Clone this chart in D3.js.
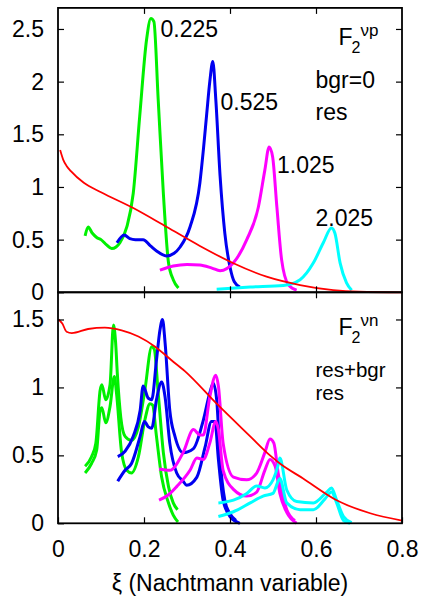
<!DOCTYPE html>
<html>
<head>
<meta charset="utf-8">
<script src="https://cdn.jsdelivr.net/npm/d3@7"></script>
<style>
  html, body { margin: 0; padding: 0; background: #fff; }
  svg { display: block; }
  text { font-family: "Liberation Sans", Arial, sans-serif; fill: #000; }
</style>
</head>
<body>
<svg id="chart" width="423" height="597"></svg>
<script>
// ---------------- DATA ----------------
const xTickValues = [0, 0.2, 0.4, 0.6, 0.8];
const xTickLabels = ["0", "0.2", "0.4", "0.6", "0.8"];
const yTopTickValues = [0, 0.5, 1, 1.5, 2, 2.5];
const yTopTickLabels = ["0", "0.5", "1", "1.5", "2", "2.5"];
const yBotTickValues = [0, 0.5, 1, 1.5];
const yBotTickLabels = ["0", "0.5", "1", "1.5"];
const peakLabels = ["0.225", "0.525", "1.025", "2.025"];

// Top panel (F2 nu p), bgr=0, res
const redTopXi = [0.005, 0.012, 0.02, 0.03, 0.06, 0.1, 0.175, 0.253, 0.33, 0.408, 0.485, 0.563, 0.64, 0.7, 0.8];
const redTopF2 = [1.35, 1.26, 1.2, 1.15, 1.04, 0.95, 0.80, 0.62, 0.44, 0.276, 0.148, 0.069, 0.02, 0.005, 0.0];

const greenTopXi = [0.063, 0.07, 0.08, 0.09, 0.10, 0.113, 0.125, 0.135, 0.144, 0.16, 0.175, 0.19, 0.206, 0.216, 0.223, 0.233, 0.245, 0.257, 0.268, 0.28];
const greenTopF2 = [0.535, 0.62, 0.56, 0.52, 0.50, 0.45, 0.415, 0.43, 0.47, 0.62, 0.94, 1.67, 2.40, 2.60, 2.57, 1.83, 0.94, 0.28, 0.12, 0.04];

const blueTopXi = [0.137, 0.154, 0.167, 0.18, 0.198, 0.215, 0.23, 0.253, 0.27, 0.284, 0.307, 0.33, 0.338, 0.346, 0.353, 0.36, 0.367, 0.377, 0.388, 0.40, 0.41, 0.423];
const blueTopF2 = [0.47, 0.545, 0.51, 0.50, 0.50, 0.44, 0.39, 0.345, 0.37, 0.43, 0.62, 1.04, 1.35, 1.70, 2.0, 2.19, 1.83, 1.10, 0.56, 0.24, 0.10, 0.05];

const magentaTopXi = [0.237, 0.268, 0.3, 0.33, 0.358, 0.377, 0.408, 0.439, 0.466, 0.481, 0.491, 0.499, 0.509, 0.52, 0.536, 0.555];
const magentaTopF2 = [0.21, 0.25, 0.265, 0.26, 0.23, 0.205, 0.28, 0.50, 0.81, 1.16, 1.38, 1.29, 0.81, 0.31, 0.07, 0.02];

const cyanTopXi = [0.369, 0.447, 0.524, 0.563, 0.594, 0.617, 0.636, 0.644, 0.656, 0.671, 0.683];
const cyanTopF2 = [0.03, 0.05, 0.065, 0.12, 0.28, 0.47, 0.61, 0.56, 0.28, 0.09, 0.02];

// Bottom panel (F2 nu n), res+bgr (upper) and res (lower)
const redBotXi = [0.001, 0.01, 0.02, 0.032, 0.07, 0.109, 0.148, 0.187, 0.226, 0.264, 0.295, 0.369, 0.447, 0.493, 0.516, 0.57, 0.648, 0.726, 0.8];
const redBotF2 = [1.50, 1.47, 1.41, 1.40, 1.43, 1.44, 1.42, 1.375, 1.30, 1.20, 1.12, 0.88, 0.64, 0.50, 0.44, 0.33, 0.17, 0.074, 0.02];

const greenBgrXi = [0.063, 0.078, 0.088, 0.098, 0.102, 0.111, 0.121, 0.129, 0.134, 0.138, 0.146, 0.156, 0.171, 0.187, 0.202, 0.218, 0.224, 0.233, 0.245, 0.257, 0.268, 0.278];
const greenBgrF2 = [0.42, 0.49, 0.59, 0.98, 1.02, 0.91, 1.02, 1.46, 1.33, 1.10, 0.78, 0.64, 0.61, 0.71, 0.98, 1.30, 1.28, 0.96, 0.52, 0.27, 0.15, 0.10];
const greenResXi = [0.063, 0.078, 0.09, 0.098, 0.102, 0.111, 0.121, 0.131, 0.136, 0.148, 0.16, 0.171, 0.187, 0.202, 0.214, 0.22, 0.229, 0.241, 0.257, 0.268, 0.279];
const greenResF2 = [0.37, 0.44, 0.54, 0.83, 0.85, 0.74, 0.86, 1.08, 0.96, 0.52, 0.39, 0.37, 0.49, 0.76, 0.88, 0.87, 0.64, 0.34, 0.15, 0.06, 0.01];

const blueBgrXi = [0.139, 0.156, 0.175, 0.191, 0.198, 0.21, 0.218, 0.229, 0.237, 0.243, 0.249, 0.26, 0.272, 0.291, 0.315, 0.338, 0.353, 0.361, 0.369, 0.377, 0.388, 0.40, 0.414];
const blueBgrF2 = [0.49, 0.53, 0.64, 0.83, 1.01, 0.92, 0.91, 1.20, 1.42, 1.50, 1.33, 0.83, 0.64, 0.52, 0.55, 0.76, 0.96, 1.03, 0.91, 0.47, 0.17, 0.07, 0.02];
const blueResXi = [0.139, 0.156, 0.171, 0.191, 0.201, 0.21, 0.218, 0.229, 0.241, 0.249, 0.26, 0.276, 0.291, 0.299, 0.323, 0.342, 0.357, 0.365, 0.373, 0.384, 0.40, 0.423];
const blueResF2 = [0.31, 0.39, 0.44, 0.64, 0.75, 0.71, 0.70, 0.91, 1.04, 0.93, 0.59, 0.37, 0.31, 0.28, 0.34, 0.56, 0.75, 0.75, 0.47, 0.17, 0.05, 0.0];

const magentaBgrXi = [0.235, 0.26, 0.291, 0.315, 0.33, 0.338, 0.353, 0.367, 0.373, 0.384, 0.408, 0.439, 0.462, 0.481, 0.493, 0.502, 0.512, 0.532, 0.551];
const magentaBgrF2 = [0.40, 0.39, 0.52, 0.69, 0.65, 0.65, 0.93, 1.09, 1.01, 0.59, 0.34, 0.32, 0.37, 0.52, 0.62, 0.59, 0.37, 0.10, 0.02];
const magentaResXi = [0.235, 0.257, 0.276, 0.307, 0.323, 0.338, 0.353, 0.367, 0.373, 0.384, 0.408, 0.439, 0.462, 0.481, 0.493, 0.505, 0.516, 0.532, 0.555];
const magentaResF2 = [0.17, 0.21, 0.27, 0.39, 0.48, 0.47, 0.59, 0.75, 0.69, 0.39, 0.25, 0.20, 0.23, 0.39, 0.47, 0.42, 0.22, 0.08, 0.0];

const cyanBgrXi = [0.373, 0.408, 0.439, 0.462, 0.481, 0.50, 0.512, 0.516, 0.532, 0.555, 0.594, 0.625, 0.636, 0.648, 0.664, 0.683];
const cyanBgrF2 = [0.15, 0.17, 0.22, 0.275, 0.26, 0.32, 0.43, 0.48, 0.245, 0.16, 0.15, 0.23, 0.26, 0.17, 0.05, 0.005];
const cyanResXi = [0.373, 0.408, 0.447, 0.477, 0.50, 0.512, 0.516, 0.532, 0.563, 0.594, 0.621, 0.636, 0.648, 0.664, 0.679];
const cyanResF2 = [0.05, 0.085, 0.15, 0.20, 0.22, 0.31, 0.33, 0.15, 0.10, 0.10, 0.18, 0.23, 0.15, 0.02, 0.0];

// ---------------- DRAW ----------------
const svg = d3.select("#chart");
const L = 58, R = 402, T = 7.9, MID = 292.3, B = 523.3;
const FS = 23;

const x = d3.scaleLinear().domain([0, 0.8]).range([L, R]);
const yTop = d3.scaleLinear().domain([0, 2.7]).range([MID, T]);
const yBot = d3.scaleLinear().domain([0, 1.7]).range([B, MID]);

const zip = (xs, ys) => xs.map((v, i) => [v, ys[i]]);

function drawCurve(yScale, xs, ys, color, width) {
  const line = d3.line()
    .x(d => x(d[0]))
    .y(d => yScale(d[1]))
    .curve(d3.curveMonotoneX);
  svg.append("path")
    .attr("d", line(zip(xs, ys)))
    .attr("fill", "none")
    .attr("stroke", color)
    .attr("stroke-width", width)
    .attr("stroke-linejoin", "round")
    .attr("stroke-linecap", "butt");
}

const GREEN = "#00f000", BLUE = "#0000f0", MAG = "#ff00ff", CYAN = "#00ffff", RED = "#ff0000";
const LW = 3, RW = 1.8;

// top panel curves
drawCurve(yTop, greenTopXi, greenTopF2, GREEN, LW);
drawCurve(yTop, blueTopXi, blueTopF2, BLUE, LW);
drawCurve(yTop, magentaTopXi, magentaTopF2, MAG, LW);
drawCurve(yTop, cyanTopXi, cyanTopF2, CYAN, LW);
drawCurve(yTop, redTopXi, redTopF2, RED, RW);

// bottom panel curves
drawCurve(yBot, greenBgrXi, greenBgrF2, GREEN, LW);
drawCurve(yBot, greenResXi, greenResF2, GREEN, LW);
drawCurve(yBot, blueBgrXi, blueBgrF2, BLUE, LW);
drawCurve(yBot, blueResXi, blueResF2, BLUE, LW);
drawCurve(yBot, magentaBgrXi, magentaBgrF2, MAG, LW);
drawCurve(yBot, magentaResXi, magentaResF2, MAG, LW);
drawCurve(yBot, cyanBgrXi, cyanBgrF2, CYAN, LW);
drawCurve(yBot, cyanResXi, cyanResF2, CYAN, LW);
drawCurve(yBot, redBotXi, redBotF2, RED, RW);

// axes
function styleAxis(g) {
  g.select(".domain").remove();
  g.selectAll(".tick line").attr("stroke", "#000").attr("stroke-width", 1.2);
  g.selectAll(".tick text").attr("font-size", FS).attr("font-family", "Liberation Sans, Arial, sans-serif").attr("fill", "#000");
}
const TK = 6;
const innerX = xTickValues.filter(v => v > 0 && v < 0.8);

// top panel
svg.append("g").attr("transform", `translate(${L},0)`)
  .call(d3.axisLeft(yTop).tickValues(yTopTickValues).tickFormat((d, i) => yTopTickLabels[i]).tickSize(-TK).tickPadding(14))
  .call(styleAxis);
svg.append("g").attr("transform", `translate(${R},0)`)
  .call(d3.axisRight(yTop).tickValues(yTopTickValues.filter(v => v > 0)).tickFormat("").tickSize(-TK))
  .call(styleAxis);
svg.append("g").attr("transform", `translate(0,${T})`)
  .call(d3.axisTop(x).tickValues(innerX).tickFormat("").tickSize(-TK))
  .call(styleAxis);
svg.append("g").attr("transform", `translate(0,${MID})`)
  .call(d3.axisBottom(x).tickValues(innerX).tickFormat("").tickSize(-TK))
  .call(styleAxis);

// bottom panel
svg.append("g").attr("transform", `translate(${L},0)`)
  .call(d3.axisLeft(yBot).tickValues(yBotTickValues).tickFormat((d, i) => yBotTickLabels[i]).tickSize(-TK).tickPadding(14))
  .call(styleAxis);
svg.append("g").attr("transform", `translate(${R},0)`)
  .call(d3.axisRight(yBot).tickValues(yBotTickValues.filter(v => v > 0)).tickFormat("").tickSize(-TK))
  .call(styleAxis);
svg.append("g").attr("transform", `translate(0,${MID})`)
  .call(d3.axisTop(x).tickValues(innerX).tickFormat("").tickSize(-TK))
  .call(styleAxis);
svg.append("g").attr("transform", `translate(0,${B})`)
  .call(d3.axisBottom(x).tickValues(xTickValues).tickFormat((d, i) => xTickLabels[i]).tickSize(-TK).tickPadding(17))
  .call(styleAxis);

// frames
svg.append("rect").attr("x", L).attr("y", T).attr("width", R - L).attr("height", MID - T)
  .attr("fill", "none").attr("stroke", "#000").attr("stroke-width", 1.8);
svg.append("rect").attr("x", L).attr("y", MID).attr("width", R - L).attr("height", B - MID)
  .attr("fill", "none").attr("stroke", "#000").attr("stroke-width", 1.8);

// peak labels (top panel)
const labelPos = [[160.5, 36.7], [220.5, 110], [277, 173.3], [315.5, 226]];
peakLabels.forEach((t, i) => {
  svg.append("text").attr("x", labelPos[i][0]).attr("y", labelPos[i][1])
    .attr("font-size", FS).text(t);
});

// panel titles
function f2Title(xp, yp, sup) {
  const t = svg.append("text").attr("x", xp).attr("y", yp).attr("font-size", FS);
  t.append("tspan").text("F");
  t.append("tspan").attr("font-size", 16).attr("x", xp + 13).attr("y", yp + 8).text("2");
  t.append("tspan").attr("font-size", 17).attr("x", xp + 22).attr("y", yp - 9).text(sup);
}
f2Title(338.5, 45, "νp");
f2Title(338.5, 335, "νn");

svg.append("text").attr("x", 315.5).attr("y", 88).attr("font-size", FS).text("bgr=0");
svg.append("text").attr("x", 315.5).attr("y", 120).attr("font-size", FS).text("res");

// two-line legend text for the bottom panel
svg.append("text").attr("x", 315.5).attr("y", 377).attr("font-size", 20.5).text("res+bgr");
svg.append("text").attr("x", 315.5).attr("y", 400).attr("font-size", 20.5).text("res");

// x axis title
svg.append("text").attr("x", (L + R) / 2).attr("y", 591).attr("text-anchor", "middle")
  .attr("font-size", FS).text("ξ (Nachtmann variable)");
</script>
</body>
</html>
